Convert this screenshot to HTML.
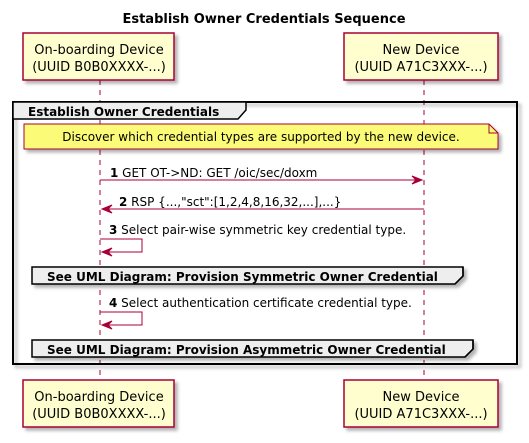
<!DOCTYPE html>
<html><head><meta charset="utf-8"><style>
body{margin:0;background:#fff}
svg text{font-family:"DejaVu Sans","Liberation Sans",sans-serif}
</style></head><body>
<svg width="529" height="438" viewBox="0 0 529 438" xmlns="http://www.w3.org/2000/svg">
<defs><filter id="sh" x="-10%" y="-10%" width="130%" height="140%"><feDropShadow dx="3" dy="3" stdDeviation="1.5" flood-color="#000" flood-opacity="0.3"/></filter></defs>
<text x="264" y="23" text-anchor="middle" font-size="13" font-weight="bold">Establish Owner Credentials Sequence</text>
<line x1="100" y1="80" x2="100" y2="380" stroke="#A80036" stroke-dasharray="5,5"/>
<line x1="424" y1="80" x2="424" y2="380" stroke="#A80036" stroke-dasharray="5,5"/>
<g fill="#FEFECE" stroke="#A80036" stroke-width="1.5" filter="url(#sh)">
<rect x="23" y="33" width="151" height="47"/><rect x="344" y="33" width="154" height="47"/>
<rect x="23" y="160" width="0" height="0"/>
<rect x="23" y="380" width="151" height="47"/><rect x="344" y="380" width="154" height="47"/>
</g>
<g font-size="13" text-anchor="middle">
<text x="99" y="54">On-boarding Device</text><text x="99" y="71">(UUID B0B0XXXX-...)</text>
<text x="421" y="54">New Device</text><text x="421" y="71">(UUID A71C3XXX-...)</text>
<text x="99" y="401">On-boarding Device</text><text x="99" y="418">(UUID B0B0XXXX-...)</text>
<text x="421" y="401">New Device</text><text x="421" y="418">(UUID A71C3XXX-...)</text>
</g>
<rect x="13" y="102" width="504" height="262" fill="none" stroke="#000" stroke-width="2" filter="url(#sh)"/>
<path d="M13 102 H246 V110 L238 119 H13 Z" fill="#EEEEEE" stroke="#000" stroke-width="1.5"/>
<text x="28" y="116" font-size="12" font-weight="bold">Establish Owner Credentials</text>
<path d="M24 124 H489 L498 133 V149 H24 Z" fill="#FBFB77" stroke="#A80036" filter="url(#sh)"/>
<path d="M489 124 V133 H498" fill="none" stroke="#A80036"/>
<text x="261" y="141" text-anchor="middle" font-size="12">Discover which credential types are supported by the new device.</text>
<g stroke="#A80036" fill="none" stroke-width="1">
<line x1="100" y1="180" x2="422" y2="180"/><path d="M412 176 L422 180 L412 184 L416 180 Z" fill="#A80036"/>
<line x1="102" y1="209" x2="424" y2="209"/><path d="M112 205 L102 209 L112 213 L108 209 Z" fill="#A80036"/>
<path d="M100 239 H142 V252 H102"/><path d="M112 248 L102 252 L112 256 L108 252 Z" fill="#A80036"/>
<path d="M100 312 H142 V325 H102"/><path d="M112 321 L102 325 L112 329 L108 325 Z" fill="#A80036"/>
</g>
<g font-size="12">
<text x="110" y="177"><tspan font-weight="bold">1</tspan> GET OT-&gt;ND: GET /oic/sec/doxm</text>
<text x="119" y="206"><tspan font-weight="bold">2</tspan> RSP {...,"sct":[1,2,4,8,16,32,...],...}</text>
<text x="109" y="234"><tspan font-weight="bold">3</tspan> Select pair-wise symmetric key credential type.</text>
<text x="109" y="307"><tspan font-weight="bold">4</tspan> Select authentication certificate credential type.</text>
</g>
<g fill="#EEEEEE" stroke="#000" stroke-width="1.5" filter="url(#sh)">
<path d="M32 267 H463 V276 L455 284 H32 Z"/>
<path d="M32 340 H473 V349 L465 357 H32 Z"/>
</g>
<path d="M463 267 V276 L455 284" fill="none" stroke="#000" stroke-width="1.5"/>
<path d="M473 340 V349 L465 357" fill="none" stroke="#000" stroke-width="1.5"/>
<g font-size="12" font-weight="bold">
<text x="47" y="281">See UML Diagram: Provision Symmetric Owner Credential</text>
<text x="47" y="354">See UML Diagram: Provision Asymmetric Owner Credential</text>
</g>
</svg>
</body></html>
